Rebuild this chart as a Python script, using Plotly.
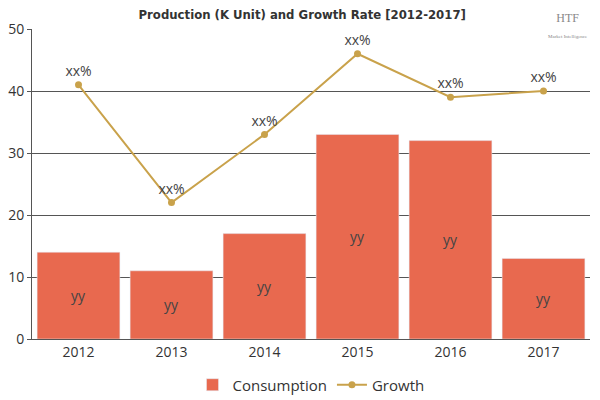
import plotly.graph_objects as go

years = ["2012", "2013", "2014", "2015", "2016", "2017"]
consumption = [14, 11, 17, 33, 32, 13]
growth = [41, 22, 33, 46, 39, 40]
bar_labels = ["yy"] * 6
line_labels = ["xx%"] * 6

fig = go.Figure()
fig.add_trace(go.Bar(
    x=years, y=consumption, name="Consumption",
    marker=dict(color="#E8694F"),
    text=bar_labels, textposition="inside", insidetextanchor="middle",
    textfont=dict(color="#444444", size=14, family="Open Sans"),
))
fig.add_trace(go.Scatter(
    x=years, y=growth, name="Growth", mode="lines+markers+text",
    line=dict(color="#C9A24B", width=2),
    marker=dict(color="#C9A24B", size=7),
    text=line_labels, textposition="top center",
    textfont=dict(color="#444444", size=14, family="Open Sans"),
))

# page has an 8px body margin, so the figure is sized 592x392
fig.update_layout(
    width=592, height=392,
    margin=dict(l=24, r=10, t=21, b=61, autoexpand=False),
    plot_bgcolor="white", paper_bgcolor="white",
    bargap=0.11,
    title=dict(text="<b>Production (K Unit) and Growth Rate [2012-2017]</b>",
               x=0.497, xanchor="center", y=0.995, yanchor="top",
               font=dict(family="DejaVu Sans Condensed", size=13, color="#333333")),
    legend=dict(orientation="h", x=0.5, xanchor="center", y=-0.095, yanchor="top",
                font=dict(family="Open Sans", size=15, color="#333333")),
    font=dict(family="Open Sans", color="#333333"),
    showlegend=True,
)
fig.update_yaxes(range=[0, 50], dtick=10, showgrid=True, gridcolor="#555555", gridwidth=1,
                 showline=True, linecolor="#555555", ticks="outside", ticklen=4,
                 tickcolor="#555555", tickfont=dict(size=14, color="#333333"),
                 zeroline=False, automargin=False)
fig.update_xaxes(showline=True, linecolor="#555555", tickfont=dict(size=14, color="#333333"),
                 automargin=False)

fig.add_annotation(text="HTF<br><span style='font-size:5px'>Market Intelligence</span>",
                   x=0.96, y=1.062, xref="paper", yref="paper",
                   showarrow=False, xanchor="center", yanchor="top", borderpad=0,
                   font=dict(family="Liberation Serif", size=12, color="#888888"))

fig.write_html("out.html")
